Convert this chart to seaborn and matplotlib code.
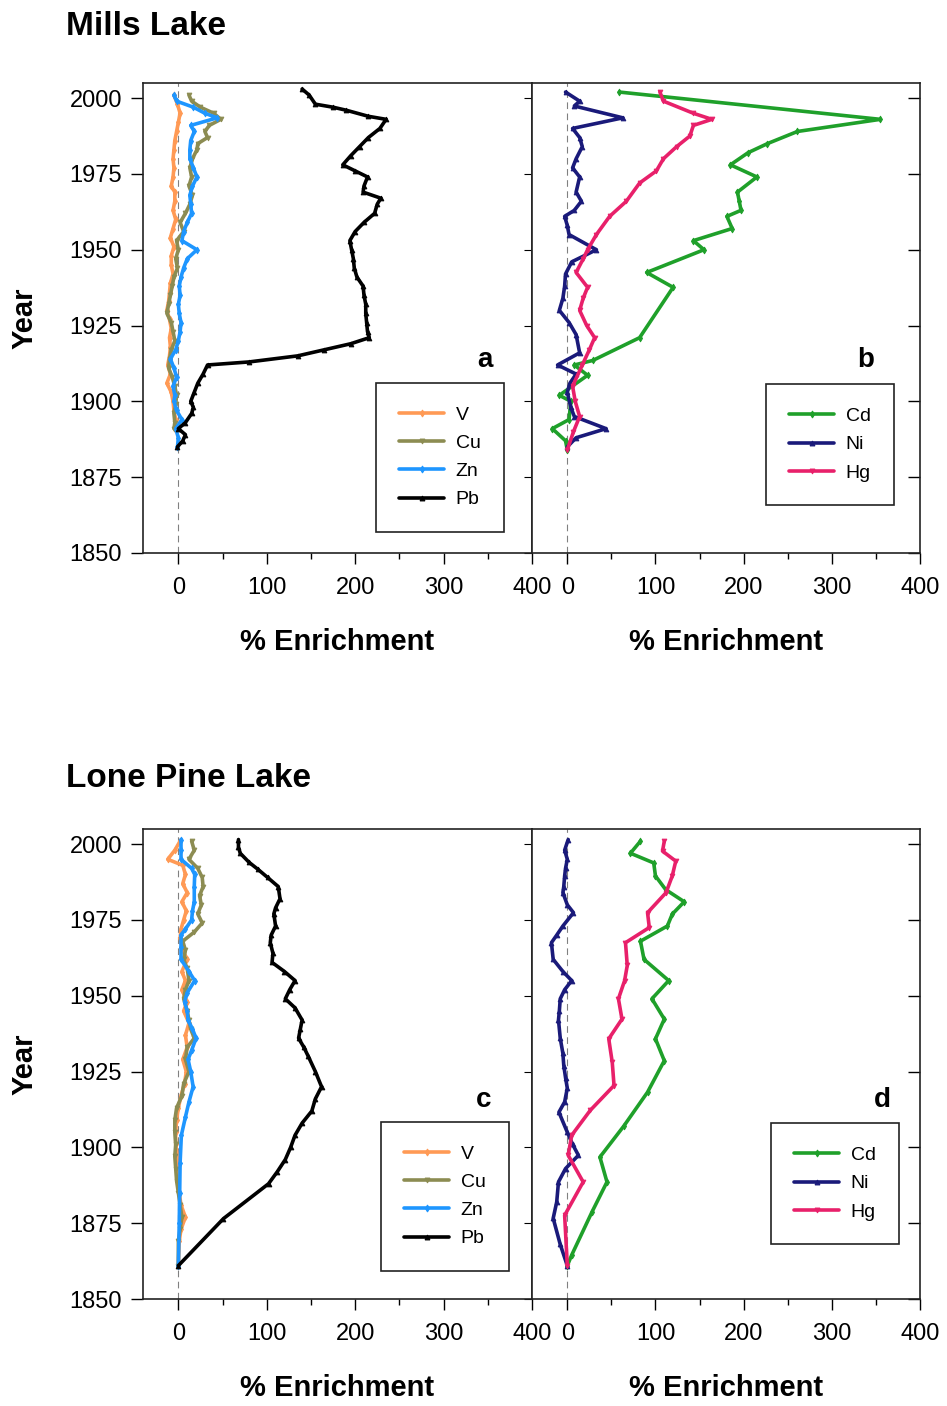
import pandas as pd
import numpy as np
import matplotlib.pyplot as plt
import seaborn as sns

sns.set_style("ticks", {"text.color": "black", "axes.labelcolor": "black",
                        "xtick.color": "black", "ytick.color": "black"})
plt.rcParams["font.family"] = ["Liberation Sans", "DejaVu Sans"]

# ---------------- Mills Lake ----------------
mills_v_year = [2001, 1998, 1995, 1992, 1989, 1986, 1983, 1980, 1977, 1974, 1971, 1969, 1966, 1963,
                1960, 1957, 1954, 1951, 1948, 1945, 1942, 1939, 1936, 1933, 1930, 1927, 1924, 1921,
                1918, 1915, 1912, 1909, 1906, 1903, 1900, 1897, 1894, 1891]
mills_v_val = [-5, -1, 2, 0, -2, -4, -5, -6, -5, -6, -8, -4, -4, -6,
               -3, -6, -9, -5, -8, -8, -6, -9, -10, -11, -13, -10, -8, -10,
               -9, -10, -12, -9, -13, -8, -6, -5, -3, -4]

mills_cu_year = [2001, 1999, 1997, 1995, 1993, 1991, 1989, 1987, 1985, 1983, 1980, 1977, 1974, 1971,
                 1968, 1965, 1962, 1959, 1956, 1953, 1950, 1947, 1944, 1941, 1938, 1935, 1932, 1929,
                 1926, 1923, 1920, 1917, 1914, 1911, 1908, 1905, 1902, 1899, 1896, 1893, 1891]
mills_cu_val = [12, 15, 25, 40, 48, 35, 30, 33, 22, 21, 16, 13, 15, 12,
                16, 13, 8, 2, 6, -2, 0, -3, -1, -5, -7, -9, -11, -13,
                -8, -6, -4, -8, -10, -11, -7, -4, -2, -3, -5, -4, -5]

mills_zn_year = [2001, 1999, 1997, 1995, 1993.5, 1991, 1989, 1986, 1983, 1980, 1977, 1974, 1971, 1968,
                 1965, 1962, 1959, 1956, 1953, 1950, 1947, 1944, 1941, 1938, 1935, 1932, 1929, 1926,
                 1923, 1920, 1917, 1914, 1911, 1908, 1905, 1902, 1900, 1897, 1894, 1891, 1888, 1885]
mills_zn_val = [-5, -2, 17, 30, 44, 14, 18, 14, 13, 13, 17, 21, 16, 13,
                14, 15, 10, 6, 4, 21, 10, 6, 3, 1, 2, 0, 1, 3,
                2, 0, -3, -9, -5, -2, -6, -4, -5, -2, 4, -3, 0, -1]

mills_pb_year = [2003, 2001, 1998, 1997, 1996, 1994, 1993, 1990, 1987, 1984, 1981, 1978, 1976, 1974,
                 1971, 1969, 1967, 1965, 1962, 1959, 1956, 1953, 1950, 1947, 1944, 1941, 1938, 1935,
                 1932, 1929, 1926, 1923, 1921, 1919, 1917, 1915, 1913, 1912, 1909, 1906, 1903, 1900,
                 1898, 1896, 1893, 1891, 1889, 1887, 1885]
mills_pb_val = [140, 148, 155, 175, 190, 215, 235, 228, 215, 205, 195, 186, 200, 214,
                210, 209, 229, 225, 222, 210, 200, 194, 196, 198, 199, 202, 209, 210,
                212, 212, 213, 214, 216, 195, 165, 135, 80, 33, 28, 22, 18, 14,
                17, 15, 8, 0, 8, 5, -1]

mills_cd_year = [2002, 1993, 1989, 1985, 1982, 1978, 1974, 1969, 1966, 1963, 1961, 1957, 1953, 1950,
                 1942.5, 1937.6, 1921, 1913.5, 1912, 1908.6, 1902, 1900, 1894, 1891, 1887, 1884]
mills_cd_val = [59, 355, 261, 227, 205, 185, 215, 193, 195, 197, 181, 187, 143, 155,
                90, 120, 82, 29, 8, 23, -9, 4, 2, -17, -2, 0]

mills_ni_year = [2002, 1999, 1997.4, 1993.5, 1990, 1987, 1984, 1980, 1977, 1974, 1969, 1966, 1963, 1961,
                 1958, 1955, 1950, 1946, 1942, 1938, 1934, 1930, 1926, 1922, 1916, 1912, 1909, 1906,
                 1903, 1898, 1895, 1891, 1888, 1885]
mills_ni_val = [-2, 14, 8, 63, 6, 14, 17, 10, 6, 14, 10, 16, 8, -3,
                0, 2, 33, 5, -2, -3, -5, -9, 2, 10, 14, -11, 10, 3,
                0, 4, 8, 44, 10, 0]

mills_hg_year = [2002, 1999, 1995, 1993, 1991, 1987.5, 1984, 1980, 1976, 1972, 1966, 1961, 1955, 1950,
                 1947, 1942.5, 1937.6, 1934, 1930, 1925, 1921, 1917, 1912, 1905, 1900, 1895, 1890, 1884]
mills_hg_val = [105, 109, 143, 164, 143, 139, 124, 109, 101, 82, 67, 48, 33, 23,
                18, 10, 23, 18, 14, 22, 31, 25, 17, 6, 9, 14, 7, 0]

# ---------------- Lone Pine Lake ----------------
lp_v_year = [2001, 1998, 1995, 1993, 1990, 1987, 1984, 1981, 1978, 1975, 1972, 1969, 1965, 1962,
             1958, 1955, 1952, 1948, 1945, 1941, 1937, 1933, 1929, 1925, 1921, 1917, 1913, 1909,
             1905, 1901, 1897, 1893, 1889, 1885, 1881, 1877, 1873, 1869, 1861]
lp_v_val = [2, -4, -12, 5, 8, 5, 10, 4, 9, 6, 3, 2, 5, 10,
            4, 8, 4, 10, 6, 12, 8, 10, 5, 9, 7, 3, 0, -2,
            -3, -3, -1, 0, -1, 1, 3, 8, 3, 1, 0]

lp_cu_year = [2001, 1998, 1995, 1992, 1989, 1986, 1983, 1980, 1977, 1974, 1971, 1968, 1965, 1962,
              1959, 1955, 1952, 1949, 1945, 1942, 1939, 1936, 1933, 1929, 1925, 1921, 1917, 1913,
              1909, 1905, 1901, 1897, 1893, 1889, 1885, 1881, 1877, 1873, 1869, 1861]
lp_cu_val = [15, 18, 12, 22, 27, 28, 24, 26, 22, 27, 18, 5, 8, 6,
             10, 12, 8, 6, 10, 12, 14, 18, 10, 8, 12, 6, 4, -2,
             -4, -4, -3, -4, -3, -2, 0, 2, 4, 2, 0, 0]

lp_zn_year = [2001.5, 1998, 1995, 1992, 1990, 1986, 1981, 1978, 1975, 1972, 1970, 1966, 1962, 1958,
              1955, 1951, 1948, 1945, 1942, 1939, 1936, 1932, 1929, 1925, 1920, 1915, 1910, 1904,
              1895, 1885, 1875, 1861]
lp_zn_val = [3, 3, 3, 15, 18.5, 18, 18, 16, 15, 8, 3, 3, 3, 12,
             18.5, 10, 7, 10, 11, 16, 20, 15, 11, 14, 16.7, 12, 8, 3.4,
             2, 1.5, 1, 0]

lp_pb_year = [2001.5, 1999, 1997, 1994, 1991.7, 1989, 1986, 1982, 1979, 1977, 1973, 1970, 1967.5, 1964,
              1961, 1958, 1955, 1952, 1949, 1946, 1942, 1939, 1936, 1933, 1930, 1925, 1920, 1916,
              1912, 1908, 1904, 1900, 1896, 1892, 1888, 1876.5, 1861]
lp_pb_val = [68, 68, 70, 80, 90, 101, 113, 115, 110, 108, 110, 105, 104, 107,
             106, 120, 132, 126, 121, 132, 140, 138, 136, 142, 147, 155, 162, 155,
             151, 140, 132, 127, 121, 112, 102, 51, 0]

lp_cd_year = [2001, 1997, 1993.8, 1989.5, 1985, 1981, 1976.9, 1973, 1968, 1962, 1955, 1949, 1942.3,
              1935.8, 1928.6, 1918.2, 1907, 1896.8, 1888.6, 1878.7, 1864.5, 1861]
lp_cd_val = [83, 71.6, 98, 100, 111.6, 132.6, 119, 113.5, 83, 87, 115, 96, 110,
             100, 110, 91, 64, 37, 45, 28, 5, 0]

lp_ni_year = [2001.5, 1998, 1995, 1992, 1989.5, 1986, 1984, 1980, 1977.4, 1973, 1970, 1967.5, 1962, 1958,
              1955, 1952, 1949, 1945, 1942, 1936, 1931, 1927, 1923, 1919.5, 1915, 1911.6, 1905, 1901,
              1897.4, 1893, 1888.6, 1882, 1876.6, 1868, 1861]
lp_ni_val = [1, -3, 0, -2, -3, -4, -5, 0, 7, -5, -12, -18, -16, -5,
             5, -3, -8, -9, -10, -8, -5, -4, -2, 0, -3, -9.5, 0, 6,
             12.6, -2, -10, -12, -16, -8, 0]

lp_hg_year = [2001, 1997.7, 1994.4, 1989.5, 1984, 1977.4, 1972.5, 1967.5, 1960, 1955, 1949, 1942.3,
              1935.8, 1928, 1920.4, 1912.2, 1904, 1897.4, 1888.6, 1877.6, 1861]
lp_hg_val = [110, 108, 123, 119, 112, 91, 93, 66, 68, 65, 58, 62,
             47, 51, 53, 26, 5, 1, 18, -3, 0]

colors = {"V": "#ff9a55", "Cu": "#8c8c52", "Zn": "#1e96ff", "Pb": "#000000",
          "Cd": "#1fa02a", "Ni": "#1a1a7a", "Hg": "#e8206a"}
markers = {"V": "d", "Cu": "v", "Zn": "d", "Pb": "^", "Cd": "d", "Ni": "^", "Hg": "v"}


def make_df(series):
    frames = []
    for name, yrs, vals in series:
        frames.append(pd.DataFrame({"metal": name, "year": yrs, "val": vals}))
    return pd.concat(frames, ignore_index=True)


def draw_panel(ax, df, order, letter, letter_xy, leg_anchor):
    ax.axvline(0, color="gray", lw=0.8, ls=(0, (6, 4)), zorder=0)
    sns.lineplot(data=df, x="val", y="year", hue="metal", style="metal", hue_order=order,
                 style_order=order, palette={k: colors[k] for k in order},
                 markers={k: markers[k] for k in order}, dashes=False,
                 sort=False, estimator=None, orient="y", lw=2.6, markersize=3.5, ax=ax)
    # markers drawn in the line colour, not white-edged
    for ln in ax.lines[1:]:
        ln.set_markeredgecolor(ln.get_color())
        ln.set_markeredgewidth(0.6)
    ax.set_xlim(-40, 400)
    ax.set_ylim(1850, 2005)
    ax.set_xticks([0, 100, 200, 300, 400])
    ax.set_xticks(np.arange(0, 401, 50), minor=True)
    ax.set_yticks(np.arange(1850, 2001, 25))
    ax.tick_params(axis="x", which="major", direction="out", length=8, width=1, labelsize=17, pad=9)
    ax.tick_params(axis="x", which="minor", direction="out", length=4, width=1)
    ax.tick_params(axis="y", direction="out", length=9, width=1, labelsize=17, pad=6)
    ax.set_xlabel("% Enrichment", fontsize=21, fontweight="bold", labelpad=21)
    ax.set_ylabel("")
    for s in ax.spines.values():
        s.set_color("#222222")
        s.set_linewidth(1.2)
    ax.text(letter_xy[0], letter_xy[1], letter, transform=ax.transAxes,
            fontsize=20, fontweight="bold", ha="center", va="center")
    sns.move_legend(ax, "lower left", bbox_to_anchor=leg_anchor, title=None, frameon=True,
                    fontsize=14, handlelength=2.3, borderpad=1.2, labelspacing=0.55,
                    handletextpad=0.6, borderaxespad=0)
    leg = ax.get_legend()
    leg.get_frame().set_edgecolor("#222222")
    leg.get_frame().set_linewidth(1.2)
    leg.get_frame().set_boxstyle("square", pad=0)
    leg.get_frame().set_alpha(1)
    for h in leg.legend_handles:
        h.set_linewidth(2.6)
        h.set_markeredgecolor(h.get_color())


fig = plt.figure(figsize=(9.47, 14.06), dpi=100)
ax_a = fig.add_axes([0.151, 0.6067, 0.4107, 0.3343])
ax_b = fig.add_axes([0.5618, 0.6067, 0.4097, 0.3343])
ax_c = fig.add_axes([0.151, 0.0761, 0.4107, 0.3343])
ax_d = fig.add_axes([0.5618, 0.0761, 0.4097, 0.3343])

df_a = make_df([("V", mills_v_year, mills_v_val), ("Cu", mills_cu_year, mills_cu_val),
                ("Zn", mills_zn_year, mills_zn_val), ("Pb", mills_pb_year, mills_pb_val)])
df_b = make_df([("Cd", mills_cd_year, mills_cd_val), ("Ni", mills_ni_year, mills_ni_val),
                ("Hg", mills_hg_year, mills_hg_val)])
df_c = make_df([("V", lp_v_year, lp_v_val), ("Cu", lp_cu_year, lp_cu_val),
                ("Zn", lp_zn_year, lp_zn_val), ("Pb", lp_pb_year, lp_pb_val)])
df_d = make_df([("Cd", lp_cd_year, lp_cd_val), ("Ni", lp_ni_year, lp_ni_val),
                ("Hg", lp_hg_year, lp_hg_val)])

draw_panel(ax_a, df_a, ["V", "Cu", "Zn", "Pb"], "a", (0.879, 0.41), (0.599, 0.045))
draw_panel(ax_b, df_b, ["Cd", "Ni", "Hg"], "b", (0.86, 0.41), (0.603, 0.102))
draw_panel(ax_c, df_c, ["V", "Cu", "Zn", "Pb"], "c", (0.877, 0.423), (0.612, 0.06))
draw_panel(ax_d, df_d, ["Cd", "Ni", "Hg"], "d", (0.902, 0.423), (0.616, 0.117))

for ax in (ax_a, ax_c):
    ax.set_ylabel("Year", fontsize=21, fontweight="bold", labelpad=22)
    sec = ax.secondary_yaxis("right")
    sec.set_yticks(np.arange(1850, 2001, 25))
    sec.tick_params(direction="in", length=6, labelright=False)
    sec.spines["right"].set_visible(False)
for ax in (ax_b, ax_d):
    ax.tick_params(axis="y", left=False, right=True, direction="in", labelleft=False)

fig.text(0.07, 0.9815, "Mills Lake", fontsize=24, fontweight="bold", ha="left", va="center")
fig.text(0.07, 0.4465, "Lone Pine Lake", fontsize=24, fontweight="bold", ha="left", va="center")

fig.savefig("out.png", dpi=100)
